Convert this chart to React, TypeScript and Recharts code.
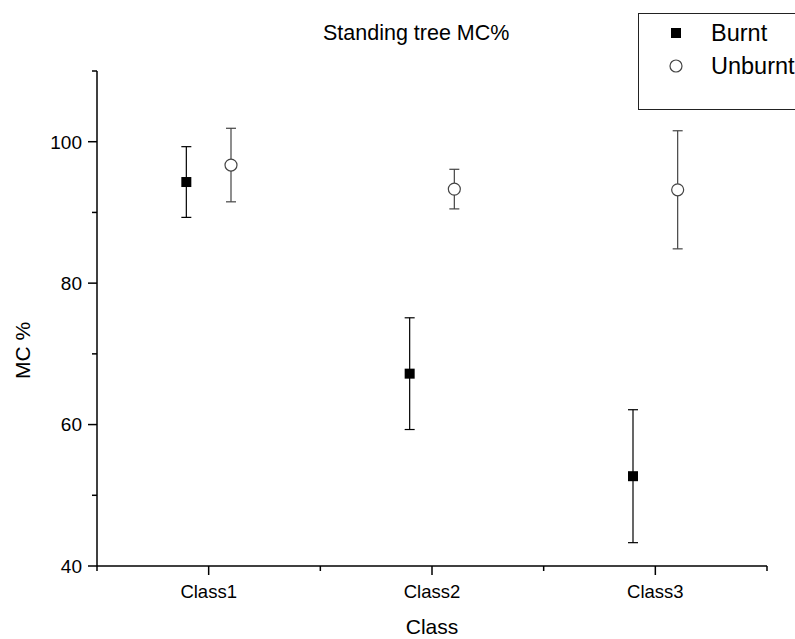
import { ScatterChart, Scatter, XAxis, YAxis, ErrorBar } from "recharts";

const CATEGORIES = ["Class1", "Class2", "Class3"];
const BURNT = [94.3, 67.2, 52.7];
const BURNT_ERR = [5.0, 7.9, 9.4];
const UNBURNT = [96.7, 93.3, 93.2];
const UNBURNT_ERR = [5.2, 2.8, 8.35];
const X_TICKS = [0.5, 1, 1.5, 2, 2.5, 3, 3.5];
const Y_TICKS = [40, 50, 60, 70, 80, 90, 100, 110];
const Y_LABELED = [40, 60, 80, 100];

const DODGE = 0.1;
const FONT = "'Liberation Sans', Arial, sans-serif";

const burntData = CATEGORIES.map((c, i) => ({ name: c, x: i + 1 - DODGE, y: BURNT[i], err: BURNT_ERR[i] }));
const unburntData = CATEGORIES.map((c, i) => ({ name: c, x: i + 1 + DODGE, y: UNBURNT[i], err: UNBURNT_ERR[i] }));

function XTick({ x, y, payload }: any) {
  const v = payload.value;
  const major = Number.isInteger(v);
  return (
    <g>
      <line x1={x} x2={x} y1={y} y2={y + (major ? 9 : 5)} stroke="#000" strokeWidth={1.5} />
      {major && (
        <text x={x} y={y + 32} textAnchor="middle" fontSize={18.5} fontFamily={FONT} fill="#000">
          {CATEGORIES[v - 1]}
        </text>
      )}
    </g>
  );
}

function YTick({ x, y, payload }: any) {
  const v = payload.value;
  const major = Y_LABELED.includes(v);
  return (
    <g>
      <line x1={x - (major ? 9 : 5)} x2={x} y1={y} y2={y} stroke="#000" strokeWidth={1.5} />
      {major && (
        <text x={x - 15} y={y} dy="0.36em" textAnchor="end" fontSize={19} fontFamily={FONT} fill="#000">
          {v}
        </text>
      )}
    </g>
  );
}

const Square = ({ cx, cy }: any) => <rect x={cx - 5} y={cy - 5} width={10} height={10} fill="#000" />;
const Ring = ({ cx, cy }: any) => <circle cx={cx} cy={cy} r={6} fill="#fff" stroke="#444" strokeWidth={1.2} />;

function LegendBox() {
  const row = (icon: any, label: string, top: number) => (
    <div style={{ position: "absolute", left: 0, top, height: 26, display: "flex", alignItems: "center" }}>
      <svg width={72} height={26} style={{ display: "block" }}>{icon}</svg>
      <span style={{ fontSize: 23.5, fontFamily: FONT, color: "#000", whiteSpace: "nowrap" }}>{label}</span>
    </div>
  );
  return (
    <div style={{ position: "absolute", left: 638, top: 13, width: 180, height: 95, border: "1px solid #222", background: "#fff" }}>
      {row(<rect x={32} y={8} width={10} height={10} fill="#000" />, "Burnt", 6)}
      {row(<circle cx={37} cy={13} r={6} fill="#fff" stroke="#444" strokeWidth={1.2} />, "Unburnt", 39)}
    </div>
  );
}

export default function App() {
  return (
    <div style={{ position: "absolute", left: 0, top: 0, width: 795, height: 639, background: "#fff", overflow: "hidden" }}>
      <div style={{ position: "absolute", left: 323, top: 21, fontSize: 21.5, fontFamily: FONT, color: "#000", whiteSpace: "nowrap" }}>
        Standing tree MC%
      </div>
      <ScatterChart width={795} height={639} margin={{ top: 71, right: 28, bottom: 0, left: 0 }}>
        <XAxis
          type="number"
          dataKey="x"
          domain={[0.5, 3.5]}
          ticks={X_TICKS}
          allowDataOverflow
          height={73}
          axisLine={{ stroke: "#000", strokeWidth: 1.5 }}
          tickLine={false}
          tickSize={0}
          tickMargin={0}
          tick={<XTick />}
          interval={0}
          label={{
            content: ({ viewBox }: any) => (
              <text x={viewBox.x + viewBox.width / 2} y={viewBox.y + 68} textAnchor="middle" fontSize={21} fontFamily={FONT} fill="#000">
                Class
              </text>
            ),
          }}
        />
        <YAxis
          type="number"
          dataKey="y"
          domain={[40, 110]}
          ticks={Y_TICKS}
          allowDataOverflow
          width={97}
          axisLine={{ stroke: "#000", strokeWidth: 1.5 }}
          tickLine={false}
          tickSize={0}
          tickMargin={0}
          tick={<YTick />}
          interval={0}
          label={{
            content: ({ viewBox }: any) => {
              const lx = viewBox.x + 30;
              const ly = viewBox.y + viewBox.height / 2 + 32;
              return (
                <text x={lx} y={ly} transform={`rotate(-90 ${lx} ${ly})`} textAnchor="middle" fontSize={21} fontFamily={FONT} fill="#000">
                  MC %
                </text>
              );
            },
          }}
        />
        <Scatter name="Burnt" data={burntData} shape={<Square />} fill="#000" isAnimationActive={false}>
          <ErrorBar dataKey="err" direction="y" width={5} stroke="#000" strokeWidth={1.2} isAnimationActive={false} />
        </Scatter>
        <Scatter name="Unburnt" data={unburntData} shape={<Ring />} fill="#fff" isAnimationActive={false}>
          <ErrorBar dataKey="err" direction="y" width={5} stroke="#444" strokeWidth={1.2} isAnimationActive={false} />
        </Scatter>
      </ScatterChart>
      <LegendBox />
    </div>
  );
}
